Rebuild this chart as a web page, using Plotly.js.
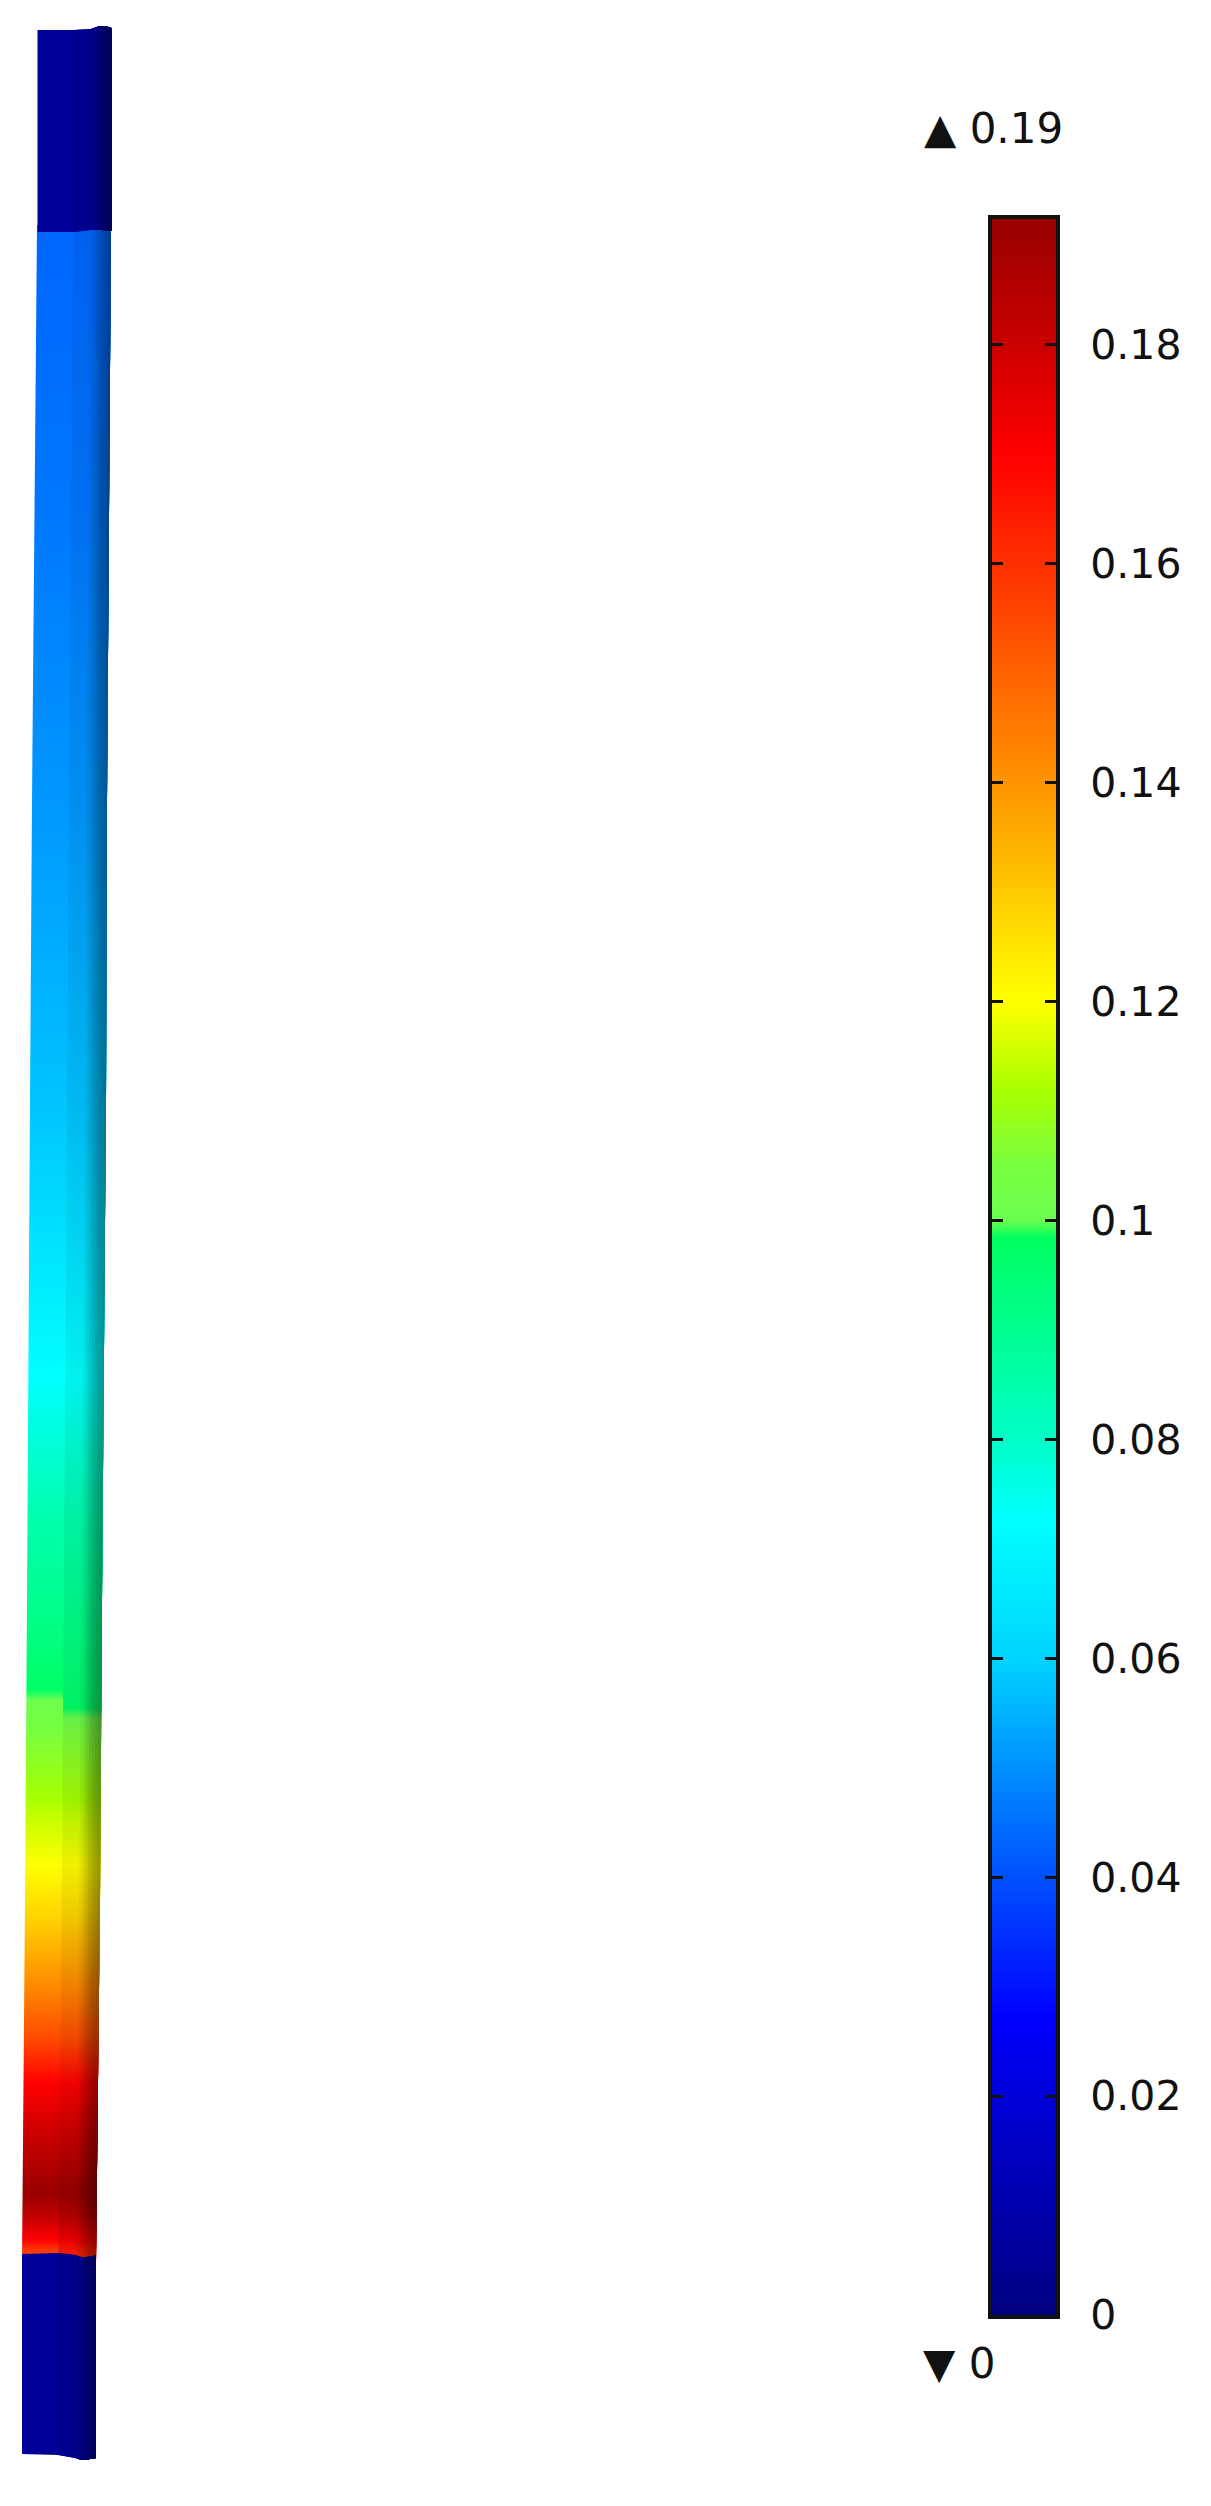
<!DOCTYPE html>
<html>
<head>
<meta charset="utf-8">
<script src="https://cdn.plot.ly/plotly-3.0.1.min.js"></script>
<style>
    html, body { margin: 0; padding: 0; background: #fff; }
</style>
</head>
<body>
<div id="chart"></div>
<script>
// Colour legend: value -> colour
const legendValues = [0, 0.005, 0.02, 0.027, 0.04, 0.05, 0.06, 0.0725, 0.08, 0.09, 0.0985, 0.1, 0.105, 0.112, 0.12, 0.14, 0.16, 0.17, 0.18, 0.1915];
const legendColors = ['#00007c', '#000098', '#0000d8', '#0000ff', '#0050ff', '#0090ff', '#00d4ff', '#00ffff', '#00ffc8', '#00ff90', '#00ff60', '#6cff50', '#78ff40', '#a8ff00', '#ffff00', '#ff9400', '#ff3000', '#ff0000', '#cc0000', '#980000'];
const legendTicks = [0, 0.02, 0.04, 0.06, 0.08, 0.1, 0.12, 0.14, 0.16, 0.18];
const legendTickText = ['0', '0.02', '0.04', '0.06', '0.08', '0.1', '0.12', '0.14', '0.16', '0.18'];
const maxLabel = '\u25B2 0.19';
const minLabel = '\u25BC 0';

// Beam: field value along the length (image px), left face / right faces
const beamY = [225, 500, 800, 1100, 1375, 1520, 1600, 1690, 1700, 1708, 1718, 1730, 1800, 1820, 1865, 1917, 1990, 2040, 2083, 2133, 2193, 2215, 2240, 2250, 2262];
const beamValue = [0.0435, 0.046, 0.051, 0.0575, 0.0725, 0.085, 0.09, 0.0975, 0.1003, 0.102, 0.103, 0.105, 0.112, 0.115, 0.12, 0.128, 0.143, 0.155, 0.17, 0.18, 0.191, 0.183, 0.17, 0.158, 0.155];
const beamValueRight = [0.0435, 0.046, 0.051, 0.0575, 0.0725, 0.085, 0.09, 0.0955, 0.0965, 0.0975, 0.1003, 0.105, 0.112, 0.115, 0.12, 0.128, 0.143, 0.155, 0.17, 0.18, 0.191, 0.185, 0.172, 0.165, 0.16];
const capValue = 0.005;

// Beam outline, image px
const edgeY = [225, 800, 1100, 1600, 1900, 2262];
const edgeLeft = [37, 32, 30, 27, 25, 22];
const edgeRight = [111, 107, 106, 102, 100, 96];

// Strips across the width, fraction of the beam and brightness of each strip
const stripFrac = [0, 0.49, 0.72, 0.76, 0.8, 0.84, 0.88, 0.92, 0.96, 1];
const stripShade = [1, 0.94, 0.9, 0.85, 0.79, 0.73, 0.68, 0.64, 0.6];

// End caps: y of top and bottom at each strip boundary
const topCapTop = [30, 30, 29, 28, 27, 26, 26, 26, 27, 28];
const topCapBottom = [232, 232, 230, 230, 230, 230, 230, 231, 231, 231];
const topCapLeft = 37.5, topCapRight = 111.5;
const botCapTop = [2254, 2253, 2255, 2256, 2257, 2257, 2257, 2256, 2256, 2255];
const botCapBottom = [2454, 2455, 2458, 2459, 2460, 2460, 2460, 2459, 2459, 2458];
const botCapLeft = 22, botCapRight = 96;

function hexToRgb(hex) {
    return [1, 3, 5].map(i => parseInt(hex.substr(i, 2), 16));
}

// colour of a field value, shade 1 = as on the legend
function valueColor(v, shade) {
    let i = 0;
    while (i < legendValues.length - 2 && v > legendValues[i + 1]) i++;
    const t = Math.min(1, Math.max(0, (v - legendValues[i]) / (legendValues[i + 1] - legendValues[i])));
    const a = hexToRgb(legendColors[i]);
    const b = hexToRgb(legendColors[i + 1]);
    const c = a.map((ch, k) => Math.round((ch + (b[k] - ch) * t) * shade));
    return `rgb(${c[0]},${c[1]},${c[2]})`;
}

const traces = [];
const lastFrac = stripFrac.length - 1;

// middle part of the beam, one gradient polygon per strip.
// Every strip runs to the right edge and the next one paints over it, so no seams show
for (let s = 0; s < stripShade.length; s++) {
    const a = stripFrac[s];
    const values = s === 0 ? beamValue : beamValueRight;
    const xUp = edgeY.map((y, i) => edgeLeft[i] + a * (edgeRight[i] - edgeLeft[i]));
    const span = beamY[beamY.length - 1] - beamY[0];
    traces.push({
        x: xUp.concat(edgeRight.slice().reverse()),
        y: edgeY.concat(edgeY.slice().reverse()),
        type: 'scatter',
        mode: 'none',
        fill: 'toself',
        hoverinfo: 'skip',
        fillgradient: {
            type: 'vertical',
            start: beamY[0],
            stop: beamY[beamY.length - 1],
            colorscale: beamY.map((y, i) => [(y - beamY[0]) / span, valueColor(values[i], stripShade[s])])
        }
    });
}

// end caps
function addCap(left, right, tops, bottoms) {
    for (let s = 0; s < stripShade.length; s++) {
        const xs = [], ys = [], ysBottom = [];
        for (let k = s; k <= lastFrac; k++) {
            xs.push(left + stripFrac[k] * (right - left));
            ys.push(tops[k]);
            ysBottom.push(bottoms[k]);
        }
        traces.push({
            x: xs.concat(xs.slice().reverse()),
            y: ys.concat(ysBottom.slice().reverse()),
            type: 'scatter',
            mode: 'none',
            fill: 'toself',
            hoverinfo: 'skip',
            fillcolor: valueColor(capValue, stripShade[s])
        });
    }
}
addCap(topCapLeft, topCapRight, topCapTop, topCapBottom);
addCap(botCapLeft, botCapRight, botCapTop, botCapBottom);

// colour bar
const legendMax = legendValues[legendValues.length - 1];
traces.push({
    type: 'heatmap',
    xaxis: 'x2',
    yaxis: 'y2',
    x: [0, 1],
    y: legendValues,
    z: legendValues.map(v => [v, v]),
    zmin: 0,
    zmax: legendMax,
    zsmooth: 'best',
    colorscale: legendValues.map((v, i) => [v / legendMax, legendColors[i]]),
    showscale: false,
    hoverinfo: 'skip'
});

// max / min readouts
traces.push({
    type: 'scatter',
    mode: 'text',
    x: [924, 923],
    y: [132, 2367],
    text: [maxLabel, minLabel],
    textposition: 'middle right',
    textfont: { family: 'DejaVu Sans', size: 42, color: '#111' },
    hoverinfo: 'skip'
});

const layout = {
    width: 1211,
    height: 2506,
    margin: { t: 0, r: 0, b: 0, l: 0 },
    paper_bgcolor: '#fff',
    plot_bgcolor: '#fff',
    showlegend: false,
    font: { family: 'DejaVu Sans', size: 41, color: '#111' },
    xaxis: { range: [0, 1211], visible: false, fixedrange: true },
    yaxis: { range: [2506, 0], visible: false, fixedrange: true },
    xaxis2: {
        domain: [992 / 1211, 1056 / 1211],
        anchor: 'y2',
        range: [0, 1],
        showline: true,
        mirror: true,
        linecolor: '#111',
        linewidth: 4,
        ticks: '',
        showticklabels: false,
        showgrid: false,
        zeroline: false,
        fixedrange: true
    },
    yaxis2: {
        domain: [(2506 - 2315) / 2506, (2506 - 219) / 2506],
        anchor: 'x2',
        side: 'right',
        range: [0, legendMax],
        tickmode: 'array',
        tickvals: legendTicks,
        ticktext: legendTickText,
        ticks: 'inside',
        ticklen: 11,
        tickwidth: 3,
        tickcolor: '#111',
        ticklabelstandoff: 22,
        showline: true,
        mirror: 'ticks',
        linecolor: '#111',
        linewidth: 4,
        showgrid: false,
        zeroline: false,
        fixedrange: true
    }
};

Plotly.newPlot('chart', traces, layout, { displayModeBar: false, staticPlot: true });
</script>
</body>
</html>
